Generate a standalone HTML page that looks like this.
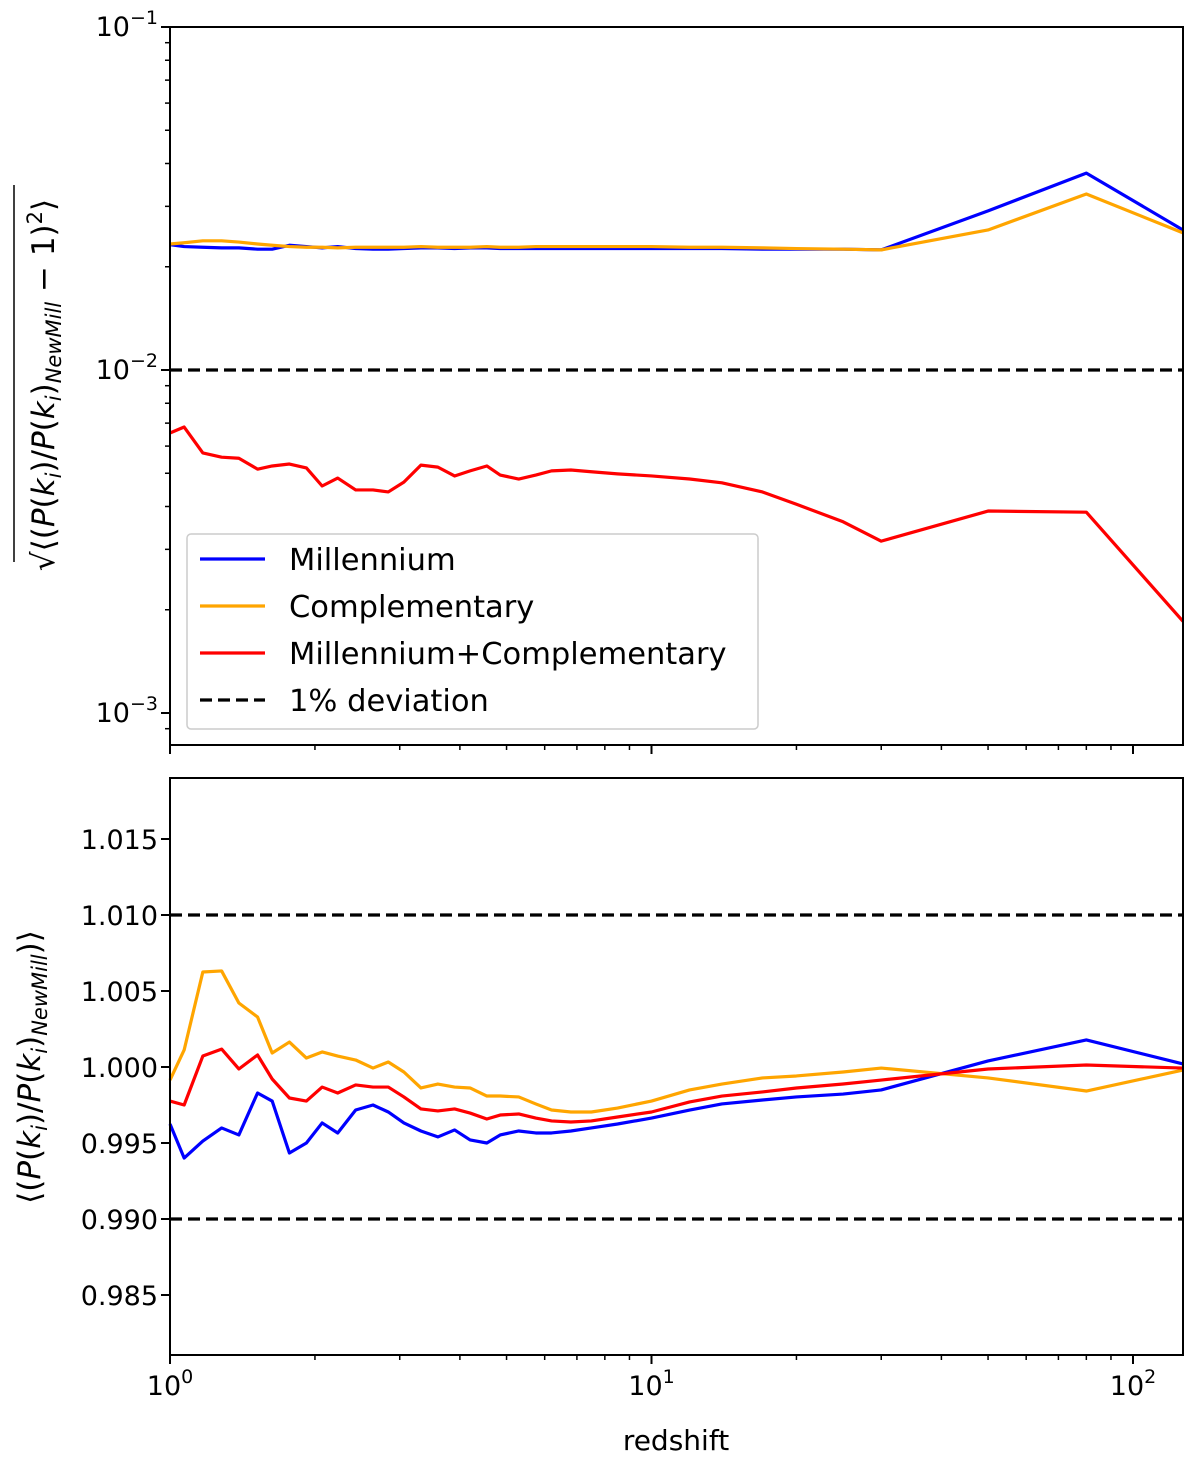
<!DOCTYPE html>
<html><head><meta charset="utf-8"><style>
body{margin:0;background:#fff}
svg{font-family:"DejaVu Sans","Liberation Sans",sans-serif}
</style></head><body>
<svg id="c" width="1200" height="1468" xmlns="http://www.w3.org/2000/svg">
<rect width="1200" height="1468" fill="#fff"/>
<g id="top"></g>
<g id="bot"></g>
<text x="676" y="1450" font-size="28" text-anchor="middle">redshift</text>
<text transform="translate(54,385) rotate(-90)" font-size="31" text-anchor="middle">√⟨(<tspan font-style="italic">P</tspan>(<tspan font-style="italic">k<tspan font-size="21" dy="7">i</tspan></tspan><tspan dy="-7">)/</tspan><tspan font-style="italic">P</tspan>(<tspan font-style="italic">k<tspan font-size="21" dy="7">i</tspan></tspan><tspan dy="-7">)</tspan><tspan font-size="21" font-style="italic" dy="7">NewMill</tspan><tspan dy="-7"> − 1)</tspan><tspan font-size="21" dy="-12">2</tspan><tspan dy="12">⟩</tspan></text>
<line x1="14" y1="185" x2="14" y2="562" stroke="#000" stroke-width="1.5"/>
<text transform="translate(40,1067) rotate(-90)" font-size="31" text-anchor="middle">⟨(<tspan font-style="italic">P</tspan>(<tspan font-style="italic">k<tspan font-size="21" dy="7">i</tspan></tspan><tspan dy="-7">)/</tspan><tspan font-style="italic">P</tspan>(<tspan font-style="italic">k<tspan font-size="21" dy="7">i</tspan></tspan><tspan dy="-7">)</tspan><tspan font-size="21" font-style="italic" dy="7">NewMill</tspan><tspan dy="-7">)⟩</tspan></text>
</svg>
<script>
const zs=[1.0,1.07,1.17,1.28,1.39,1.52,1.63,1.77,1.92,2.07,2.23,2.43,2.64,2.84,3.06,3.32,3.6,3.9,4.2,4.55,4.85,5.3,5.75,6.2,6.8,7.5,8.5,10,12,14,17,20,25,30,50,80,127];
const rmsMill=[0.0232,0.0229,0.0228,0.0227,0.0227,0.0225,0.0225,0.0231,0.0229,0.0227,0.0229,0.0226,0.0225,0.0225,0.0226,0.0227,0.0227,0.0226,0.0227,0.0227,0.0226,0.0226,0.0226,0.0226,0.0226,0.0226,0.0226,0.0226,0.0226,0.0226,0.0225,0.0225,0.0225,0.0224,0.0291,0.0375,0.0256];
const rmsComp=[0.0233,0.0235,0.0238,0.0238,0.0236,0.0233,0.0231,0.0229,0.0228,0.0228,0.0227,0.0228,0.0228,0.0228,0.0228,0.0229,0.0228,0.0228,0.0228,0.0229,0.0228,0.0228,0.0229,0.0229,0.0229,0.0229,0.0229,0.0229,0.0228,0.0228,0.0227,0.0226,0.0225,0.0224,0.0256,0.0326,0.0251];
const rmsBoth=[0.00655,0.00682,0.00573,0.00557,0.00553,0.00514,0.00525,0.00532,0.00518,0.00459,0.00484,0.00447,0.00447,0.00441,0.00471,0.00528,0.00521,0.00491,0.00508,0.00525,0.00494,0.00481,0.00494,0.00508,0.00511,0.00505,0.00498,0.00491,0.00481,0.00469,0.00441,0.00406,0.00361,0.00317,0.00388,0.00385,0.00185];
const meanMill=[0.99625,0.99401,0.99513,0.99599,0.99553,0.99829,0.99776,0.99434,0.995,0.99632,0.99566,0.99717,0.9975,0.99704,0.99632,0.99579,0.9954,0.99586,0.9952,0.995,0.99553,0.99579,0.99566,0.99566,0.99579,0.99599,0.99625,0.99664,0.99717,0.99757,0.99783,0.99803,0.99822,0.99849,1.0004,1.00178,1.0002];
const meanComp=[0.99914,1.00112,1.00625,1.00632,1.00421,1.00329,1.00092,1.00164,1.00059,1.00099,1.00072,1.00046,0.99993,1.00033,0.99967,0.99862,0.99888,0.99868,0.99862,0.99809,0.99809,0.99803,0.99757,0.99717,0.99704,0.99704,0.9973,0.99776,0.99849,0.99888,0.99928,0.99941,0.99967,0.99993,0.99928,0.99842,0.9998];
const meanBoth=[0.99776,0.9975,1.00072,1.00118,0.99987,1.00079,0.99921,0.99796,0.99776,0.99868,0.99829,0.99882,0.99868,0.99868,0.99803,0.99724,0.99711,0.99724,0.99697,0.99658,0.99684,0.99691,0.99664,0.99645,0.99638,0.99645,0.99671,0.99704,0.9977,0.99809,0.99836,0.99862,0.99888,0.99914,0.99987,1.00013,0.99993];
const topTicks=[-3,-2,-1];
const botTicks=[0.985,0.990,0.995,1.000,1.005,1.010,1.015];
const xTicks=[0,1,2];

const NS="http://www.w3.org/2000/svg";
const L=170,R=1183,TT=27,TB=745,BT=778,BB=1355;
const X=z=>L+(Math.log10(z))*481.5;
const YT=v=>370-(Math.log10(v)+2)*343;
const YB=v=>915-(v-1.010)*15200;
function el(p,t,a){const e=document.createElementNS(NS,t);for(const k in a)e.setAttribute(k,a[k]);p.appendChild(e);return e;}
const gTop=document.getElementById('top'),gBot=document.getElementById('bot');
function poly(g,ys,Y,col,name){
  const p=el(g,'polyline',{points:zs.map((z,i)=>X(z)+','+Y(ys[i])).join(' '),fill:'none',stroke:col,'stroke-width':3.2,'stroke-linejoin':'round'});
  
  
}
function frame(g,t,b){const r=el(g,'rect',{x:L,y:t,width:R-L,height:b-t,fill:'none',stroke:'#000','stroke-width':2});
  
  }
[[gTop,TB,false],[gBot,BB,true]].forEach(([g,b,lab])=>{
  for(let d=0;d<3;d++)for(let m=1;m<10;m++){const z=m*Math.pow(10,d);if(z>127)continue;const x=X(z);
    el(g,'line',{x1:x,x2:x,y1:b,y2:b+(m==1?9:5),stroke:'#000','stroke-width':m==1?2:1.5});}
  if(lab)xTicks.forEach(d=>{const t=el(g,'text',{x:X(Math.pow(10,d)),y:b+40,'font-size':27,'text-anchor':'middle'});
    
    
    t.innerHTML='10<tspan font-size="19" dy="-12">'+d+'</tspan>';});
});
topTicks.forEach(e=>{const y=YT(Math.pow(10,e));el(gTop,'line',{x1:L-9,x2:L,y1:y,y2:y,stroke:'#000','stroke-width':2});
  const t=el(gTop,'text',{x:L-12,y:y+9,'font-size':27,'text-anchor':'end'});
  
  
  t.innerHTML='10<tspan font-size="19" dy="-12">−'+(-e)+'</tspan>';});
for(let e=-4;e<-1;e++)for(let m=2;m<10;m++){const y=YT(m*Math.pow(10,e));if(y>TB||y<TT)continue;
  el(gTop,'line',{x1:L-5,x2:L,y1:y,y2:y,stroke:'#000','stroke-width':1.5});}
botTicks.forEach(v=>{const y=YB(v);el(gBot,'line',{x1:L-9,x2:L,y1:y,y2:y,stroke:'#000','stroke-width':2});
  const t=el(gBot,'text',{x:L-12,y:y+10,'font-size':27,'text-anchor':'end'});
  
  
  t.textContent=v.toFixed(3);});
const d1=el(gTop,'line',{x1:L,x2:R,y1:YT(0.01),y2:YT(0.01),stroke:'#000','stroke-width':3.2,'stroke-dasharray':'12,6'});


poly(gTop,rmsMill,YT,'#0000ff','millennium-rms-line');
poly(gTop,rmsComp,YT,'#ffa500','complementary-rms-line');
poly(gTop,rmsBoth,YT,'#ff0000','combined-rms-line');
[1.01,0.99].forEach(v=>{const d=el(gBot,'line',{x1:L,x2:R,y1:YB(v),y2:YB(v),stroke:'#000','stroke-width':3.2,'stroke-dasharray':'12,6'});
  
  });
poly(gBot,meanMill,YB,'#0000ff','millennium-mean-line');
poly(gBot,meanComp,YB,'#ffa500','complementary-mean-line');
poly(gBot,meanBoth,YB,'#ff0000','combined-mean-line');
frame(gTop,TT,TB);frame(gBot,BT,BB);
const lg=el(gTop,'g',{});


el(lg,'rect',{x:187,y:534,width:571,height:195,rx:4,fill:'#fff','fill-opacity':0.8,stroke:'#ccc','stroke-width':1.5});
[['Millennium','#0000ff',''],['Complementary','#ffa500',''],['Millennium+Complementary','#ff0000',''],['1% deviation','#000','12,6']].forEach((it,i)=>{
  const y=559+i*47;
  const g=el(lg,'g',{});
  
  
  el(g,'line',{x1:200,x2:265,y1:y,y2:y,stroke:it[1],'stroke-width':3.2,'stroke-dasharray':it[2]||'none'});
  const t=el(g,'text',{x:289,y:y+11,'font-size':30.5});t.textContent=it[0];
});
</script>
</body></html>
